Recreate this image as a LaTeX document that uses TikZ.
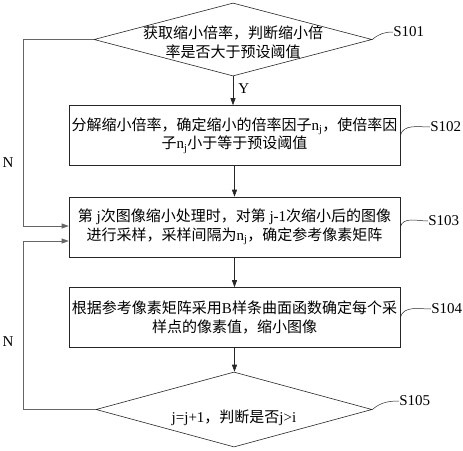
\documentclass[tikz,border=0pt]{standalone}
\usepackage{fontspec}
\setmainfont{Liberation Serif}
\newfontfamily\zhfont{Noto Sans CJK SC}
\usetikzlibrary{arrows.meta,positioning,shapes.geometric,calc}
\newcommand{\nsub}{{\rmfamily n\textsubscript{j}}}
\newcommand{\lat}[1]{{\rmfamily #1}}

\begin{document}
\begin{tikzpicture}[x=1pt,y=-1pt,
  font=\zhfont\fontsize{15}{18.5}\selectfont,
  line width=0.6pt,
  dec/.style={draw=black!85,diamond,minimum width=278pt,minimum height=73pt,inner sep=0pt},
  stepbox/.style={draw=black!85,minimum width=331pt,minimum height=60pt,inner sep=0pt,align=center},
  txt/.style={align=center,inner sep=0pt},
  arr/.style={draw=black!85,-{Triangle[length=7pt,width=5pt]}},
  back/.style={arr,draw=black!60},
  tag/.style={font=\rmfamily\fontsize{15}{17}\selectfont,inner sep=0pt,anchor=west},
  lead/.style={draw=black!85,line width=0.5pt}]
\useasboundingbox (0,0) rectangle (463,450);
% main column
\node[dec] (d1) at (233,39.5) {};
\node[txt] (d1t) at (233,42.5) {获取缩小倍率，判断缩小倍\\率是否大于预设阈值};
\node[stepbox] (b2) at (234.5,135.5) {分解缩小倍率，确定缩小的倍率因子\nsub{}，使倍率因\\子\nsub{}小于等于预设阈值};
\node[stepbox] (b3) at (234.5,227) {第\lat{ j}次图像缩小处理时，对第\lat{ j-1}次缩小后的图像\\进行采样，采样间隔为\nsub{}，确定参考像素矩阵};
\node[stepbox] (b4) at (234.5,317.5) {根据参考像素矩阵采用\lat{B}样条曲面函数确定每个采\\样点的像素值，缩小图像};
\node[dec,minimum width=276pt,minimum height=75pt] (d2) at (234,409.5) {};
\node[txt] (d2t) at (234,418) {\lat{j=j+1}，判断是否\lat{j>i}};
\draw[arr] (d1.south) -- (d1.south |- b2.north);
\node[font=\rmfamily\fontsize{15}{17}\selectfont,anchor=west,inner sep=0pt] (ylab) at (238,89) {Y};
\draw[arr] (b2.south) -- (b3.north);
\draw[arr] (b3.south) -- (b4.north);
\draw[arr] (b4.south) -- (b4.south |- d2.north);
% loops back to S103
\coordinate (rail) at (23,0);
\coordinate (in1) at ($(b3.west)+(0,-1)$);
\coordinate (in2) at ($(b3.west)+(0,14)$);
\draw[back] (d1.west) -- (d1.west -| rail) |- (in1);
\draw[back] (d2.west) -- (d2.west -| rail) |- (in2);
\node[font=\rmfamily\fontsize{15}{17}\selectfont,inner sep=0pt] (n1) at (8,163) {N};
\node[font=\rmfamily\fontsize{15}{17}\selectfont,inner sep=0pt] (n2) at (8,342) {N};
% step tags
\node[tag] (s101) at (393,32) {S101};
\node[tag] (s102) at (430,127) {S102};
\node[tag] (s103) at (428,221) {S103};
\node[tag] (s104) at (431,309) {S104};
\node[tag] (s105) at (399,401) {S105};
\draw[lead] (d1.east) to[out=40,in=180] (s101.west);
\draw[lead] (b2.east) to[out=75,in=180] (s102.west);
\draw[lead] (b3.east) to[out=75,in=180] (s103.west);
\draw[lead] (b4.east) to[out=75,in=180] (s104.west);
\draw[lead] (d2.east) to[out=40,in=180] (s105.west);
\end{tikzpicture}
\end{document}
